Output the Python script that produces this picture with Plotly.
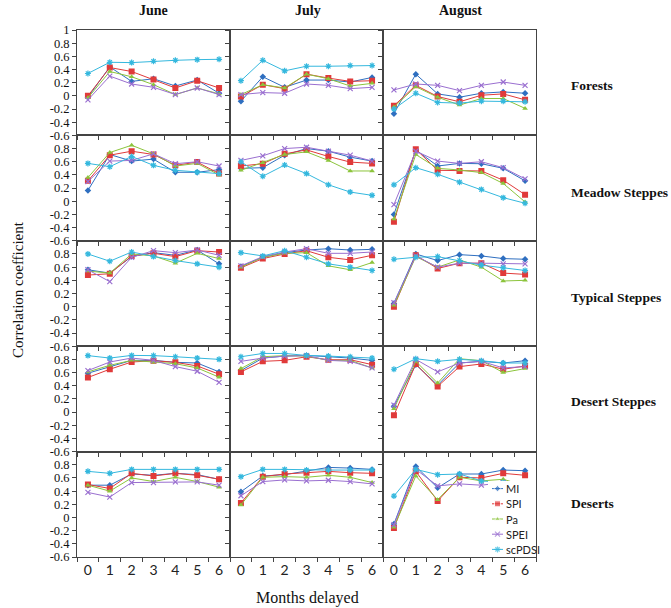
import plotly.graph_objects as go
from plotly.subplots import make_subplots

months = [0, 1, 2, 3, 4, 5, 6]
indices = ["MI", "SPI", "Pa", "SPEI", "scPDSI"]
regions = ["Forests", "Meadow Steppes", "Typical Steppes", "Desert Steppes", "Deserts"]
seasons = ["June", "July", "August"]

# ---- data: correlation coefficients per region / month ----
forests_june = {"MI": [-0.02, 0.44, 0.22, 0.26, 0.15, 0.24, 0.04],
                "SPI": [0.00, 0.43, 0.37, 0.25, 0.12, 0.23, 0.12],
                "Pa": [-0.03, 0.37, 0.29, 0.17, 0.02, 0.12, 0.03],
                "SPEI": [-0.06, 0.30, 0.18, 0.13, 0.02, 0.12, 0.02],
                "scPDSI": [0.34, 0.51, 0.505, 0.525, 0.54, 0.55, 0.555]}
forests_july = {"MI": [-0.08, 0.29, 0.13, 0.24, 0.24, 0.21, 0.28],
                "SPI": [-0.01, 0.17, 0.11, 0.33, 0.27, 0.22, 0.23],
                "Pa": [0.02, 0.17, 0.12, 0.33, 0.26, 0.15, 0.19],
                "SPEI": [0.02, 0.05, 0.04, 0.18, 0.16, 0.11, 0.13],
                "scPDSI": [0.23, 0.54, 0.38, 0.45, 0.45, 0.46, 0.46]}
forests_august = {"MI": [-0.27, 0.33, 0.03, -0.02, 0.04, 0.06, 0.04],
                  "SPI": [-0.15, 0.16, -0.01, -0.09, 0.01, 0.03, -0.06],
                  "Pa": [-0.17, 0.14, -0.02, -0.14, -0.04, -0.04, -0.19],
                  "SPEI": [0.09, 0.18, 0.16, 0.08, 0.16, 0.21, 0.16],
                  "scPDSI": [-0.20, 0.04, -0.10, -0.11, -0.08, -0.08, -0.09]}

meadow_june = {"MI": [0.165, 0.71, 0.61, 0.64, 0.44, 0.44, 0.48],
               "SPI": [0.31, 0.70, 0.76, 0.71, 0.545, 0.595, 0.42],
               "Pa": [0.36, 0.74, 0.85, 0.72, 0.535, 0.575, 0.40],
               "SPEI": [0.30, 0.61, 0.62, 0.72, 0.57, 0.60, 0.535],
               "scPDSI": [0.575, 0.525, 0.68, 0.545, 0.47, 0.44, 0.42]}
meadow_july = {"MI": [0.50, 0.51, 0.70, 0.80, 0.76, 0.67, 0.61],
               "SPI": [0.535, 0.57, 0.72, 0.78, 0.68, 0.595, 0.575],
               "Pa": [0.47, 0.585, 0.71, 0.75, 0.62, 0.46, 0.46],
               "SPEI": [0.62, 0.69, 0.80, 0.82, 0.76, 0.70, 0.61],
               "scPDSI": [0.60, 0.38, 0.55, 0.42, 0.25, 0.14, 0.09]}
meadow_august = {"MI": [-0.20, 0.78, 0.535, 0.575, 0.57, 0.50, 0.31],
                 "SPI": [-0.31, 0.79, 0.47, 0.46, 0.46, 0.32, 0.10],
                 "Pa": [-0.27, 0.71, 0.50, 0.475, 0.435, 0.27, -0.01],
                 "SPEI": [-0.05, 0.76, 0.61, 0.575, 0.60, 0.51, 0.34],
                 "scPDSI": [0.25, 0.51, 0.41, 0.29, 0.18, 0.055, -0.03]}

typical_june = {"MI": [0.56, 0.51, 0.76, 0.82, 0.78, 0.86, 0.65],
                "SPI": [0.48, 0.50, 0.77, 0.81, 0.76, 0.85, 0.83],
                "Pa": [0.54, 0.51, 0.80, 0.77, 0.66, 0.81, 0.73],
                "SPEI": [0.56, 0.38, 0.75, 0.85, 0.82, 0.86, 0.78],
                "scPDSI": [0.80, 0.69, 0.83, 0.76, 0.70, 0.65, 0.60]}
typical_july = {"MI": [0.61, 0.75, 0.82, 0.86, 0.88, 0.86, 0.87],
                "SPI": [0.59, 0.73, 0.80, 0.85, 0.75, 0.71, 0.78],
                "Pa": [0.60, 0.75, 0.81, 0.82, 0.62, 0.56, 0.67],
                "SPEI": [0.62, 0.76, 0.83, 0.88, 0.81, 0.81, 0.83],
                "scPDSI": [0.82, 0.77, 0.85, 0.75, 0.65, 0.60, 0.55]}
typical_august = {"MI": [0.05, 0.80, 0.70, 0.79, 0.77, 0.73, 0.72],
                  "SPI": [0.00, 0.78, 0.58, 0.66, 0.66, 0.51, 0.49],
                  "Pa": [0.02, 0.76, 0.60, 0.71, 0.60, 0.39, 0.40],
                  "SPEI": [0.06, 0.77, 0.60, 0.66, 0.66, 0.65, 0.65],
                  "scPDSI": [0.72, 0.75, 0.76, 0.70, 0.63, 0.59, 0.55]}

desert_steppe_june = {"MI": [0.59, 0.69, 0.785, 0.785, 0.755, 0.745, 0.61],
                      "SPI": [0.525, 0.65, 0.76, 0.78, 0.755, 0.70, 0.575],
                      "Pa": [0.61, 0.71, 0.785, 0.755, 0.735, 0.67, 0.53],
                      "SPEI": [0.63, 0.76, 0.82, 0.785, 0.69, 0.62, 0.45],
                      "scPDSI": [0.857, 0.82, 0.86, 0.857, 0.84, 0.82, 0.80]}
desert_steppe_july = {"MI": [0.63, 0.82, 0.85, 0.86, 0.84, 0.82, 0.785],
                      "SPI": [0.61, 0.77, 0.785, 0.84, 0.795, 0.795, 0.72],
                      "Pa": [0.66, 0.84, 0.857, 0.85, 0.785, 0.785, 0.67],
                      "SPEI": [0.77, 0.82, 0.85, 0.857, 0.785, 0.77, 0.67],
                      "scPDSI": [0.84, 0.89, 0.89, 0.86, 0.85, 0.84, 0.82]}
desert_steppe_august = {"MI": [0.09, 0.72, 0.41, 0.745, 0.77, 0.745, 0.78],
                        "SPI": [-0.05, 0.73, 0.39, 0.69, 0.73, 0.65, 0.70],
                        "Pa": [0.05, 0.77, 0.44, 0.81, 0.78, 0.60, 0.66],
                        "SPEI": [0.105, 0.80, 0.61, 0.745, 0.77, 0.67, 0.69],
                        "scPDSI": [0.65, 0.81, 0.77, 0.80, 0.78, 0.745, 0.745]}

deserts_june = {"MI": [0.49, 0.49, 0.66, 0.64, 0.67, 0.65, 0.58],
                "SPI": [0.50, 0.44, 0.67, 0.63, 0.67, 0.64, 0.58],
                "Pa": [0.49, 0.40, 0.60, 0.545, 0.61, 0.545, 0.46],
                "SPEI": [0.38, 0.31, 0.53, 0.53, 0.54, 0.54, 0.49],
                "scPDSI": [0.70, 0.67, 0.73, 0.73, 0.73, 0.73, 0.73]}
deserts_july = {"MI": [0.39, 0.63, 0.65, 0.71, 0.76, 0.75, 0.73],
                "SPI": [0.22, 0.62, 0.66, 0.68, 0.70, 0.68, 0.67],
                "Pa": [0.19, 0.61, 0.62, 0.61, 0.64, 0.61, 0.53],
                "SPEI": [0.33, 0.545, 0.57, 0.555, 0.565, 0.545, 0.51],
                "scPDSI": [0.62, 0.73, 0.73, 0.72, 0.72, 0.72, 0.72]}
deserts_august = {"MI": [-0.10, 0.775, 0.45, 0.66, 0.66, 0.72, 0.71],
                  "SPI": [-0.16, 0.70, 0.25, 0.61, 0.60, 0.67, 0.64],
                  "Pa": [-0.15, 0.63, 0.27, 0.61, 0.555, 0.58, 0.48],
                  "SPEI": [-0.11, 0.73, 0.48, 0.51, 0.49, 0.53, 0.49],
                  "scPDSI": [0.325, 0.73, 0.65, 0.66, 0.555, 0.53, 0.51]}

grid = [[forests_june, forests_july, forests_august],
        [meadow_june, meadow_july, meadow_august],
        [typical_june, typical_july, typical_august],
        [desert_steppe_june, desert_steppe_july, desert_steppe_august],
        [deserts_june, deserts_july, deserts_august]]

y_ticks = [-0.6, -0.4, -0.2, 0, 0.2, 0.4, 0.6, 0.8, 1]

# ---- styles ----
styles = {
    "MI": dict(color="#2f6fc0", symbol="diamond", size=5),
    "SPI": dict(color="#e03a3a", symbol="square", size=6),
    "Pa": dict(color="#8cc43c", symbol="triangle-up", size=5),
    "SPEI": dict(color="#9a6fd0", symbol="x-thin-open", size=5),
    "scPDSI": dict(color="#35b8de", symbol="asterisk-open", size=5),
}

def marker(name, size=None):
    s = styles[name]
    mk = dict(symbol=s["symbol"], size=s["size"] if size is None else size, color=s["color"])
    if s["symbol"].endswith("open"):
        mk["line"] = dict(color=s["color"], width=1.2)
    return mk

# page body margin is removed (post_script), so figure pixels == page pixels
W, H = 671, 608
L_PX, R_PX, T_PX, B_PX = 77, 536, 30, 557
ML, MR, MT, MB = L_PX, W - R_PX, T_PX, H - B_PX

fig = make_subplots(rows=5, cols=3, horizontal_spacing=0, vertical_spacing=0)

for r in range(5):
    for c in range(3):
        d = grid[r][c]
        for name in indices:
            s = styles[name]
            fig.add_trace(go.Scatter(
                x=months, y=d[name], mode="lines+markers", name=name,
                line=dict(color=s["color"], width=1), marker=marker(name),
                showlegend=False), row=r + 1, col=c + 1)

        fig.update_xaxes(
            range=[-0.5, 6.5], tickvals=months,
            ticktext=[str(m) for m in months], ticks="",
            showticklabels=(r == 4),
            tickfont=dict(family="Lato, Liberation Sans, sans-serif", size=14, color="#222"),
            minor=dict(tickvals=[-0.5, 0.5, 1.5, 2.5, 3.5, 4.5, 5.5, 6.5],
                       ticks="outside", ticklen=4, tickcolor="#444", tickwidth=1),
            showgrid=False, zeroline=False, showline=True, mirror=True,
            linecolor="#444", linewidth=1, row=r + 1, col=c + 1)
        tv = y_ticks if r == 0 else y_ticks[:-1]
        fig.update_yaxes(
            range=[-0.6, 1], tickvals=tv, ticktext=["%g" % v for v in tv],
            ticks="outside", ticklen=4, tickcolor="#444",
            showticklabels=(c == 0),
            tickfont=dict(family="Liberation Serif, Times New Roman, serif", size=12.5, color="#111"),
            showgrid=False, zeroline=False, showline=True, mirror=True,
            linecolor="#444", linewidth=1, row=r + 1, col=c + 1)

def clamp(v):
    return min(1.0, max(0.0, v))

def px_x(p):
    return (p - ML) / (W - ML - MR)

def px_y(p):
    return (H - MB - p) / (H - MT - MB)

serif = "Liberation Serif, Times New Roman, serif"
sans = "Lato, Liberation Sans, sans-serif"
ann = []
col_centers = [153.5, 307.5, 460]
for i, s in enumerate(seasons):
    ann.append(dict(text="<b>%s</b>" % s, x=px_x(col_centers[i]), y=px_y(11),
                    xref="paper", yref="paper", showarrow=False,
                    xanchor="center", yanchor="middle",
                    font=dict(family=serif, size=14, color="#111")))
row_label_y = [85, 192, 297, 401, 503]
for i, reg in enumerate(regions):
    ann.append(dict(text="<b>%s</b>" % reg, x=px_x(569), y=px_y(row_label_y[i]),
                    xref="paper", yref="paper", showarrow=False,
                    xanchor="left", yanchor="middle",
                    font=dict(family=serif, size=13.5, color="#111")))
ann.append(dict(text="Correlation coefficient", x=px_x(18), y=px_y(290),
                xref="paper", yref="paper", showarrow=False, textangle=-90,
                xanchor="center", yanchor="middle",
                font=dict(family=serif, size=15, color="#111")))
ann.append(dict(text="Months delayed", x=px_x(307.5), y=px_y(598),
                xref="paper", yref="paper", showarrow=False,
                xanchor="center", yanchor="middle",
                font=dict(family=serif, size=16, color="#111")))

# ---- legend key drawn in its own small hidden axes (inside August/Deserts panel) ----
LEG_X0, LEG_X1 = 488, 536
LEG_Y0, LEG_Y1 = 481, 557
fig.update_layout(
    xaxis16=dict(domain=[clamp(px_x(LEG_X0)), clamp(px_x(LEG_X1))], range=[0, LEG_X1 - LEG_X0],
                 anchor="y16", visible=False, fixedrange=True),
    yaxis16=dict(domain=[clamp(px_y(LEG_Y1)), clamp(px_y(LEG_Y0))], range=[4.5, -0.5],
                 anchor="x16", visible=False, fixedrange=True),
)
for i, name in enumerate(indices):
    s = styles[name]
    fig.add_trace(go.Scatter(
        x=[4, 9.5, 15], y=[i, i, i], mode="lines+markers", showlegend=False,
        line=dict(color=s["color"], width=1),
        marker=dict(marker(name), size=[0, s["size"], 0]),
        xaxis="x16", yaxis="y16", hoverinfo="skip"))
    ann.append(dict(text=name, x=16, y=i, xref="x16", yref="y16", showarrow=False,
                    xanchor="left", yanchor="middle",
                    font=dict(family=sans, size=11, color="#222")))

fig.update_layout(
    width=W, height=H, margin=dict(l=ML, r=MR, t=MT, b=MB, autoexpand=False),
    paper_bgcolor="white", plot_bgcolor="white",
    annotations=ann, showlegend=False,
)

fig.write_html("out.html",
               config={"displayModeBar": False},
               post_script="document.body.style.margin='0';"
                           "document.body.style.padding='0';"
                           "document.body.style.overflow='hidden';")
